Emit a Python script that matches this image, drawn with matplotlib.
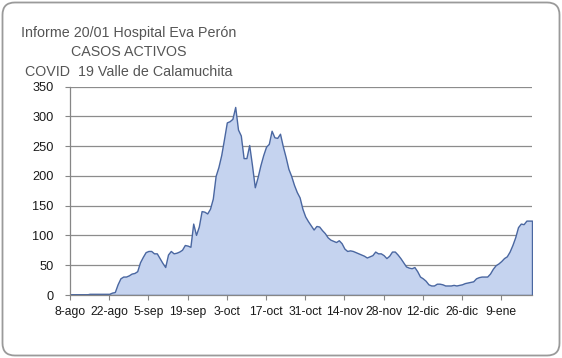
import matplotlib
matplotlib.use("Agg")
import matplotlib.pyplot as plt
from matplotlib.patches import FancyBboxPatch
import pandas as pd

plt.rcParams['font.family'] = ['Liberation Sans', 'DejaVu Sans']

title_lines = ["Informe 20/01 Hospital Eva Perón", "CASOS ACTIVOS", "COVID  19 Valle de Calamuchita"]
start_date = "2020-08-08"
casos_activos = [
    1, 1, 1, 1, 1, 1, 1, 2, 2, 2, 2, 2, 2, 2, 2, 4, 5, 18, 28, 31,
    31, 33, 36, 37, 40, 55, 64, 72, 74, 74, 70, 70, 62, 54, 47, 68, 74, 70, 71, 73,
    76, 84, 83, 81, 120, 101, 115, 141, 140, 137, 145, 162, 200, 215, 235, 262, 290, 292, 296, 316,
    278, 268, 230, 230, 252, 218, 181, 198, 218, 235, 249, 254, 276, 265, 264, 271, 250, 232, 212, 200,
    185, 173, 164, 145, 132, 124, 117, 110, 116, 115, 109, 104, 97, 93, 91, 89, 92, 87, 78, 74,
    75, 74, 72, 70, 68, 66, 63, 65, 67, 73, 70, 70, 67, 62, 66, 73, 73, 68, 62, 55,
    48, 46, 45, 47, 40, 31, 28, 24, 18, 16, 16, 19, 19, 18, 16, 16, 16, 17, 16, 17,
    18, 20, 21, 22, 23, 28, 30, 31, 31, 31, 36, 44, 50, 53, 57, 62, 65, 73, 84, 97,
    114, 120, 119, 125, 125, 125,
]
tick_dates = ["2020-08-08", "2020-08-22", "2020-09-05", "2020-09-19", "2020-10-03", "2020-10-17",
              "2020-10-31", "2020-11-14", "2020-11-28", "2020-12-12", "2020-12-26", "2021-01-09"]
tick_labels = ["8-ago", "22-ago", "5-sep", "19-sep", "3-oct", "17-oct",
               "31-oct", "14-nov", "28-nov", "12-dic", "26-dic", "9-ene"]
y_ticks = [0, 50, 100, 150, 200, 250, 300, 350]

dates = pd.date_range(start_date, periods=len(casos_activos), freq="D")

W, H = 562, 358
fig = plt.figure(figsize=(W / 100, H / 100), dpi=100)
fig.patch.set_facecolor("white")

# rounded border
border = FancyBboxPatch((2.5 / W, 2.5 / H), (W - 5) / W, (H - 5) / H,
                        boxstyle="round,pad=0,rounding_size=0.022",
                        transform=fig.transFigure, facecolor="none",
                        edgecolor="#9a9a9a", linewidth=1.3, mutation_aspect=W / H)
fig.patches.append(border)

ax = fig.add_axes([70 / W, 1 - 295 / H, (532 - 70) / W, (295 - 86.7) / H])
ax.set_facecolor("white")

ax.fill_between(dates, casos_activos, 0, facecolor="#c5d3ef", edgecolor="#4a67a1",
                linewidth=1.0, zorder=3)

ax.set_xlim(dates[0], dates[-1])
ax.set_ylim(0, 350)
ax.set_yticks(y_ticks)
ax.set_yticklabels([str(v) for v in y_ticks])
ax.set_xticks(pd.to_datetime(tick_dates))
ax.set_xticklabels(tick_labels)

ax.grid(axis="y", color="#8c8c8c", linewidth=0.9, zorder=1)
ax.set_axisbelow(True)
for s in ["top", "right"]:
    ax.spines[s].set_visible(False)
for s in ["left", "bottom"]:
    ax.spines[s].set_color("#868686")
    ax.spines[s].set_linewidth(0.9)
    ax.spines[s].set_zorder(4)

ax.tick_params(axis="y", direction="out", length=3.5, width=0.8, color="#868686",
               pad=8.5, labelsize=9.2, labelcolor="#1a1a1a")
ax.tick_params(axis="x", direction="out", length=3.6, width=0.8, color="#868686",
               pad=4.5, labelsize=8.7, labelcolor="#1a1a1a")

for txt, yb in zip(title_lines, [36.7, 56.5, 76.2]):
    fig.text(129 / W, 1 - yb / H, txt, ha="center", va="baseline",
             fontsize=10.3, color="#555555")

fig.savefig("out.png", dpi=100, facecolor="white")
